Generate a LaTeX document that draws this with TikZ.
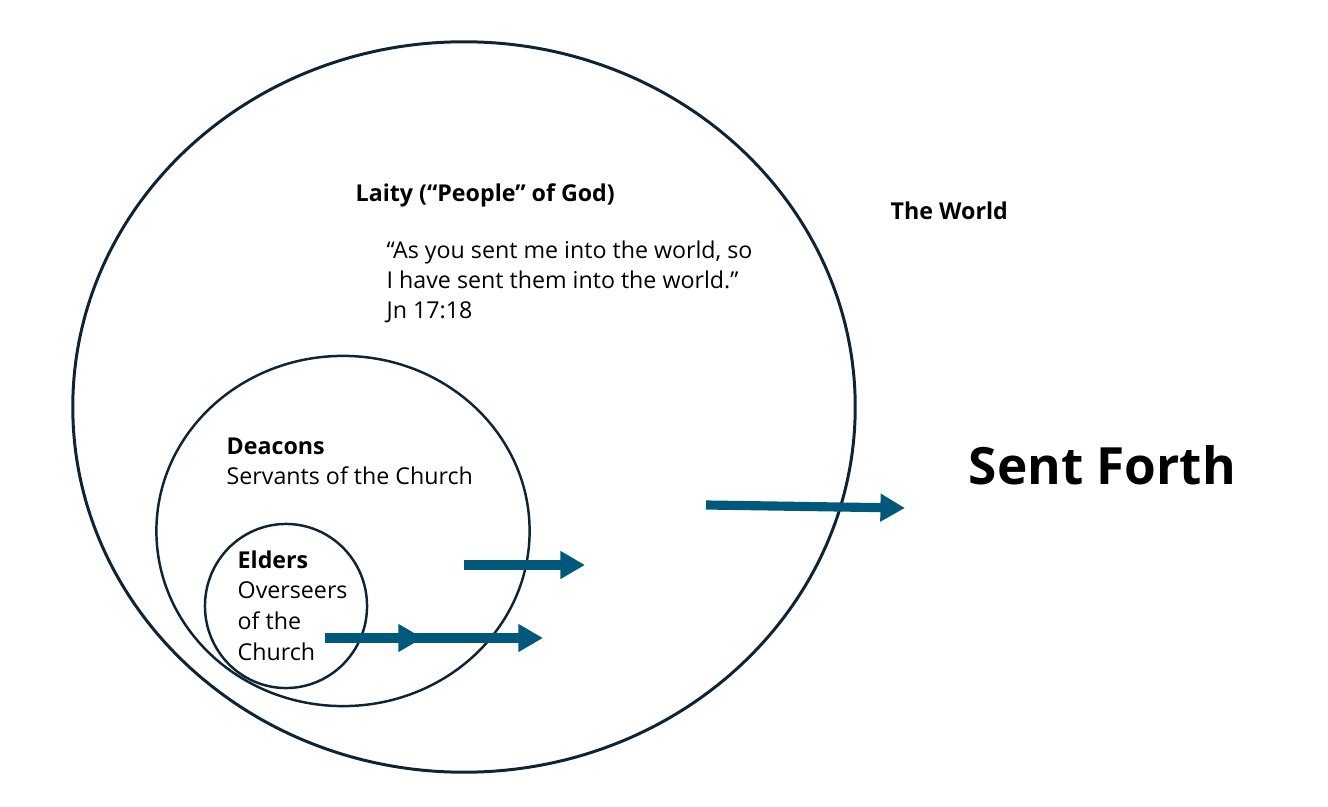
\documentclass[tikz,border=0pt]{standalone}
\usepackage{fontspec}
\setmainfont{Open Sans}
\usepackage{tikz}
\usetikzlibrary{arrows.meta,positioning}
\definecolor{anillo}{RGB}{14,36,52}
\definecolor{flecha}{RGB}{0,88,122}
\tikzset{
  anillo/.style={draw=anillo,line width=0.85pt},
  anilloint/.style={draw=anillo,line width=0.7pt},
  envio/.style={-{Triangle[length=7pt,width=7.5pt]},flecha,line width=2.6pt},
  rotulo/.style={anchor=west,inner sep=0pt,font=\fontsize{6.6pt}{8.6pt}\selectfont,align=left},
  negrita/.style={rotulo,font=\fontsize{6.6pt}{8.6pt}\selectfont\bfseries}
}

\begin{document}
\begin{tikzpicture}[x=0.01cm,y=-0.01cm]
\useasboundingbox (0,0) rectangle (1328,807);
% circulos
\draw[anillo] (464,407) ellipse [x radius=3.91cm,y radius=3.65cm];
\draw[anilloint] (343,531) ellipse [x radius=1.865cm,y radius=1.75cm];
\draw[anilloint] (286,606) ellipse [x radius=0.81cm,y radius=0.82cm];
% textos
\node[negrita] (laity) at (355,195) {Laity (“People” of God)};
\node[rotulo] (quote) at (386,282) {“As you sent me into the world, so\\I have sent them into the world.”\\Jn 17:18};
\node[negrita] (world) at (890,211) {The World};
\node[negrita] (deacons) at (226,446) {Deacons};
\node[rotulo] (servants) at (226,476) {Servants of the Church};
\node[negrita] (elders) at (237,560) {Elders};
\node[rotulo,font=\fontsize{6.6pt}{8.8pt}\selectfont] (overseers) at (237,621) {Overseers\\of the\\Church};
\node[anchor=west,inner sep=0pt,font=\fontsize{14.6pt}{17pt}\selectfont\bfseries] (sent) at (968,465) {Sent Forth};
% flechas
\coordinate (a1) at (706,505); \coordinate (b1) at (905,508);
\coordinate (a2) at (464,565); \coordinate (b2) at (585,565);
\coordinate (a3) at (325,638); \coordinate (b3) at (423,638);
\coordinate (a4) at (405,638); \coordinate (b4) at (543,638);
\draw[envio] (a1) -- (b1);
\draw[envio] (a2) -- (b2);
\draw[envio] (a3) -- (b3);
\draw[envio] (a4) -- (b4);
\end{tikzpicture}
\end{document}
